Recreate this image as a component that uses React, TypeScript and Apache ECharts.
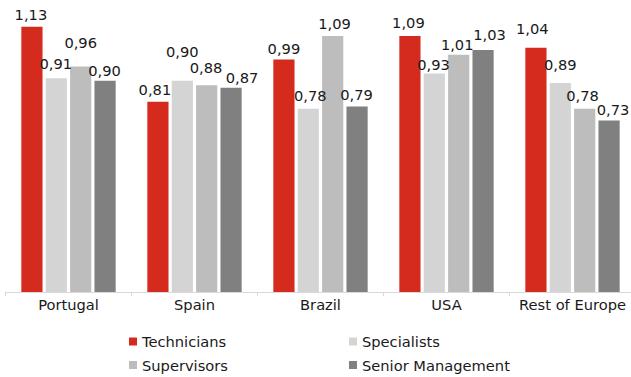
import React, { useEffect, useRef } from "react";
import * as echarts from "echarts";

const categories = ["Portugal", "Spain", "Brazil", "USA", "Rest of Europe"];
const seriesNames = ["Technicians", "Specialists", "Supervisors", "Senior Management"];
const technicians = [1.13, 0.81, 0.99, 1.09, 1.04];
const specialists = [0.91, 0.9, 0.78, 0.93, 0.89];
const supervisors = [0.96, 0.88, 1.09, 1.01, 0.78];
const seniorManagement = [0.9, 0.87, 0.79, 1.03, 0.73];

const colors = ["#d52b1e", "#d4d4d4", "#bdbdbd", "#808080"];

// label nudges (px) per series, per category — layout only
const labelOffsets: number[][][] = [
  [[-1, 0], [-3, 0], [0, 1.5], [-1.5, -1.3], [-3.7, -6.3]],
  [[-0.5, -2.7], [0, -17], [2, -0.6], [-0.8, 3.7], [0, -5.7]],
  [[0, -11.7], [-0.7, -5.5], [1.8, 0], [-1.5, 1.7], [-2.2, -0.6]],
  [[-0.5, 2.4], [11, 2.5], [-0.5, 1], [6.5, -3.3], [4, 1]],
];

const FONT = "'DejaVu Sans', Verdana, sans-serif";
const FS = 14.67;
const TXT = "#1a1a1a";

export default function App() {
  const ref = useRef<HTMLDivElement>(null);
  useEffect(() => {
    if (!ref.current) return;
    const chart = echarts.init(ref.current, null, { renderer: "svg" });
    const all = [technicians, specialists, supervisors, seniorManagement];
    const series = all.map((vals, si) => ({
      name: seriesNames[si],
      type: "bar",
      barWidth: 21.2,
      barGap: "15%",
      itemStyle: { color: colors[si] },
      label: {
        show: true,
        position: "top",
        distance: 5,
        color: TXT,
        fontFamily: FONT,
        fontSize: FS,
        formatter: (p: any) => Number(p.value).toFixed(2).replace(".", ","),
      },
      data: vals.map((v, ci) => ({
        value: v,
        label: { offset: labelOffsets[si][ci] },
      })),
    }));
    const legendPos = [
      { left: 129, top: 334 },
      { left: 349, top: 334 },
      { left: 129, top: 357.5 },
      { left: 349, top: 357.5 },
    ];
    chart.setOption({
      animation: false,
      grid: {
        left: 5.5,
        top: 10.2,
        width: 630,
        height: 281.8,
        containLabel: false,
        outerBoundsMode: "none",
      },
      xAxis: {
        type: "category",
        data: categories,
        axisLine: { show: true, lineStyle: { color: "#d9d9d9", width: 1 } },
        axisTick: { show: true, length: 4, lineStyle: { color: "#d9d9d9" } },
        axisLabel: {
          margin: 5,
          color: TXT,
          fontFamily: FONT,
          fontSize: FS,
          interval: 0,
        },
      },
      yAxis: {
        type: "value",
        min: 0,
        max: 1.2,
        show: false,
        splitLine: { show: false },
      },
      legend: seriesNames.map((n, i) => ({
        data: [n],
        left: legendPos[i].left,
        top: legendPos[i].top,
        padding: 0,
        itemWidth: 8,
        itemHeight: 8,
        icon: "rect",
        itemGap: 5,
        textStyle: { color: TXT, fontFamily: FONT, fontSize: FS },
        selectedMode: false,
      })),
      series,
    });
    return () => chart.dispose();
  }, []);
  return (
    <div
      ref={ref}
      style={{ position: "fixed", left: 0, top: 0, width: 631, height: 377, background: "#fff" }}
    />
  );
}
